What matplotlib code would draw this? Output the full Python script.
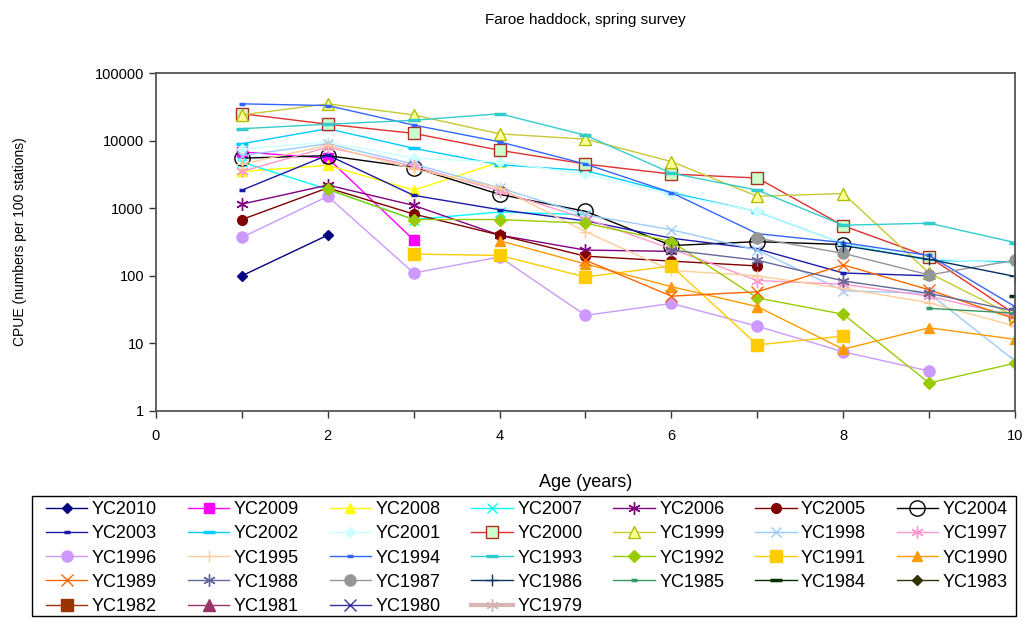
import matplotlib
matplotlib.use('Agg')
import matplotlib.pyplot as plt
from matplotlib.patches import Rectangle
from matplotlib.ticker import FixedLocator, FuncFormatter, NullFormatter
import numpy as np

plt.rcParams['font.family'] = ['Liberation Sans', 'DejaVu Sans']

nan = np.nan
ages = [1, 2, 3, 4, 5, 6, 7, 8, 9, 10]

# CPUE by age (numbers per 100 stations), one list per year class
yc2010 = [100, 400, nan, nan, nan, nan, nan, nan, nan, nan]
yc2009 = [6800, 5500, 340, nan, nan, nan, nan, nan, nan, nan]
yc2008 = [3500, 4300, 1850, 4800, nan, nan, nan, nan, nan, nan]
yc2007 = [4800, 1900, 680, 880, 800, nan, nan, nan, nan, nan]
yc2006 = [1150, 2200, 1100, 400, 240, 230, nan, nan, nan, nan]
yc2005 = [680, 2000, 820, 400, 195, 165, 140, nan, nan, nan]
yc2004 = [5500, 6000, 4000, 1600, 900, 280, 320, 290, nan, nan]
yc2003 = [1850, 6100, 1550, 950, 650, 360, 250, 110, 100, nan]
yc2002 = [9000, 15000, 7700, 4400, 3600, 1700, 890, 300, 170, 160]
yc2001 = [7500, 9500, 5500, 4800, 3200, 1600, 900, 300, 180, 150]
yc2000 = [25000, 17500, 12800, 7200, 4500, 3200, 2800, 550, 190, 27]
yc1999 = [24000, 35000, 24000, 12600, 10500, 4900, 1500, 1650, 110, 25]
yc1998 = [6000, 9000, 4500, 2000, 800, 480, 240, 60, 55, 5.5]
yc1997 = [3500, 8000, 4200, 1800, 700, 250, 85, 75, 50, 25]
yc1996 = [370, 1500, 110, 190, 26, 39, 18, 7.5, 3.9, nan]
yc1995 = [4500, 8500, 3800, 2000, 450, 120, 100, 65, 40, 18]
yc1994 = [35000, 33000, 17000, 9600, 4500, 1700, 420, 310, 200, 35]
yc1993 = [15000, 17500, 20000, 25000, 12000, 3300, 1850, 560, 600, 310]
yc1992 = [nan, 1900, 680, 680, 600, 320, 47, 27, 2.6, 5.1]
yc1991 = [nan, nan, 210, 200, 96, 140, 9.5, 12.8, nan, nan]
yc1990 = [nan, nan, nan, 330, 150, 69, 35, 8.2, 17, 11.5]
yc1989 = [nan, nan, nan, nan, 170, 50, 58, 145, 62, 23]
yc1988 = [nan, nan, nan, nan, nan, 240, 170, 84, 55, 30]
yc1987 = [nan, nan, nan, nan, nan, nan, 360, 215, 103, 170]
yc1986 = [nan, nan, nan, nan, nan, nan, nan, 280, 175, 98]
yc1985 = [nan, nan, nan, nan, nan, nan, nan, nan, 33, 28]
yc1984 = [nan, nan, nan, nan, nan, nan, nan, nan, nan, 50]
yc1983 = [nan] * 10
yc1982 = [nan] * 10
yc1981 = [nan] * 10
yc1980 = [nan] * 10
yc1979 = [nan] * 10

labels = ['YC2010', 'YC2009', 'YC2008', 'YC2007', 'YC2006', 'YC2005', 'YC2004',
          'YC2003', 'YC2002', 'YC2001', 'YC2000', 'YC1999', 'YC1998', 'YC1997',
          'YC1996', 'YC1995', 'YC1994', 'YC1993', 'YC1992', 'YC1991', 'YC1990',
          'YC1989', 'YC1988', 'YC1987', 'YC1986', 'YC1985', 'YC1984', 'YC1983',
          'YC1982', 'YC1981', 'YC1980', 'YC1979']
series = [yc2010, yc2009, yc2008, yc2007, yc2006, yc2005, yc2004,
          yc2003, yc2002, yc2001, yc2000, yc1999, yc1998, yc1997,
          yc1996, yc1995, yc1994, yc1993, yc1992, yc1991, yc1990,
          yc1989, yc1988, yc1987, yc1986, yc1985, yc1984, yc1983,
          yc1982, yc1981, yc1980, yc1979]

asterisk = (6, 2, 0)
# (line colour, marker, marker size, face colour, edge colour, line width)
styles = [
    ('#000080', 'D', 5.5, None, None, 1.0),
    ('#FF00FF', 's', 7, None, None, 1.0),
    ('#FFFF00', '^', 7, None, None, 1.0),
    ('#00FFFF', 'x', 7, None, None, 1.0),
    ('#800080', asterisk, 9, None, None, 1.0),
    ('#800000', 'o', 7, None, None, 1.0),
    ('#000000', 'o', 11, 'none', '#000000', 1.0),
    ('#1A1AAA', '_', 5, None, None, 1.0),
    ('#00CCFF', '_', 8, None, None, 1.0),
    ('#CCFFFF', 'D', 5.5, None, None, 1.0),
    ('#E03030', 's', 9, '#CCFFCC', '#B03020', 1.0),
    ('#C8C830', '^', 9, '#FFFF99', '#B0C000', 1.0),
    ('#99CCFF', 'x', 7, None, None, 1.0),
    ('#FF99CC', asterisk, 9, None, None, 1.0),
    ('#CC99FF', 'o', 8, None, None, 1.0),
    ('#FFCC99', '+', 8, None, None, 1.0),
    ('#3366FF', '_', 5, None, None, 1.0),
    ('#33CCCC', '_', 8, None, None, 1.0),
    ('#99CC00', 'D', 6, None, None, 1.0),
    ('#FFCC00', 's', 8, None, None, 1.0),
    ('#FF9900', '^', 7, None, None, 1.0),
    ('#FF6600', 'x', 8, None, None, 1.0),
    ('#666699', asterisk, 9, None, None, 1.0),
    ('#969696', 'o', 8, None, None, 1.0),
    ('#003366', '+', 9, None, None, 1.0),
    ('#339966', '_', 5, None, None, 1.0),
    ('#003300', '_', 8, None, None, 1.0),
    ('#333300', 'D', 5.5, None, None, 1.0),
    ('#993300', 's', 8, None, None, 1.0),
    ('#993366', '^', 8, None, None, 1.0),
    ('#333399', 'x', 8, None, None, 1.0),
    ('#D8B4B4', asterisk, 9, None, None, 3.0),
]

fig = plt.figure(figsize=(10.35, 6.21), dpi=100)
ax = fig.add_axes([0.1507, 0.3382, 0.8300, 0.5442])

handles = []
for lab, vals, st in zip(labels, series, styles):
    color, mk, ms, mfc, mec, lw = st
    mew = 2.5 if mk == '_' else 1.0
    line, = ax.plot(ages, vals, color=color, lw=lw, marker=mk, markersize=ms,
                    markerfacecolor=mfc if mfc else color,
                    markeredgecolor=mec if mec else color,
                    markeredgewidth=mew, label=lab)
    handles.append(line)

ax.set_yscale('log')
ax.set_ylim(1, 100000)
ax.set_xlim(0, 10)
ax.yaxis.set_major_locator(FixedLocator([1, 10, 100, 1000, 10000, 100000]))
ax.yaxis.set_major_formatter(FuncFormatter(lambda v, p: '{:.0f}'.format(v)))
ax.yaxis.set_minor_formatter(NullFormatter())
ax.yaxis.set_minor_locator(FixedLocator([]))
ax.set_xticks([0, 2, 4, 6, 8, 10])
ax.xaxis.set_minor_locator(FixedLocator([1, 3, 5, 7, 9]))
ax.tick_params(which='both', direction='out', length=5, width=1, labelsize=10.5,
               color='#333333')
ax.tick_params(axis='x', pad=8)
for s in ax.spines.values():
    s.set_color('#555555')
    s.set_linewidth(1.3)

ax.set_title('Faroe haddock, spring survey', fontsize=11, pad=35)
ax.set_xlabel('Age (years)', fontsize=13, labelpad=22)
ax.set_ylabel('CPUE (numbers per 100 stations)', fontsize=10, labelpad=49)

# legend filled row by row, 7 columns
ncol = 7
order = []
for c in range(ncol):
    for r in range(5):
        i = r * ncol + c
        if i < len(handles):
            order.append(i)
leg = fig.legend([handles[i] for i in order], [labels[i] for i in order],
                 loc='center', bbox_to_anchor=(0.0444, 0.1014, 0.9295, 0.0),
                 mode='expand', ncol=ncol, fontsize=13, handlelength=2.3,
                 handletextpad=0.25, labelspacing=0.40, borderaxespad=0,
                 frameon=False, borderpad=0)

# legend box
fig.patches.append(Rectangle((0.0309, 0.0081), 0.9507, 0.1932, transform=fig.transFigure,
                             fill=False, edgecolor='#000000', linewidth=1.0))

plt.savefig('out.png', dpi=100)
